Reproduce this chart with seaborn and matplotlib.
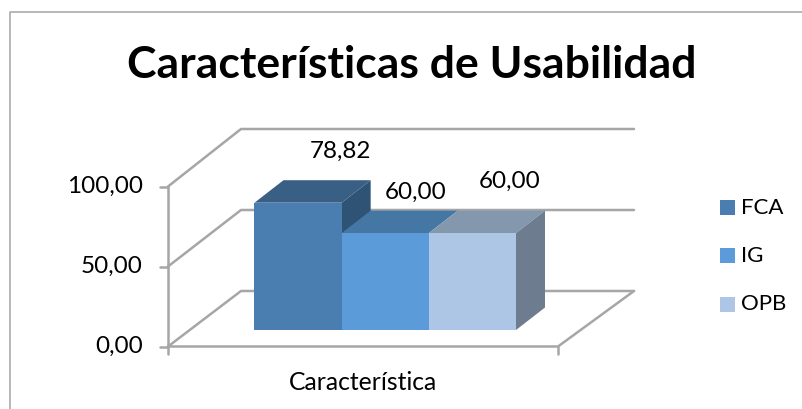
import matplotlib
matplotlib.use('Agg')
import matplotlib.pyplot as plt
from matplotlib.patches import Polygon
import seaborn as sns
import pandas as pd

series = ['FCA', 'IG', 'OPB']
values = [78.82, 60.00, 60.00]
value_labels = ['78,82', '60,00', '60,00']
category = 'Característica'
y_ticks = [0, 50, 100]
y_tick_labels = ['0,00', '50,00', '100,00']
title = 'Características de Usabilidad'

front_colors = ['#4A7EB0', '#5B9BD9', '#ADC6E5']
top_colors = ['#3A5F85', '#4577A4', '#8397AD']
side_colors = ['#2F5375', '#3F6C94', '#6D7D8F']

W, H = 803, 409
DX, DY = 29, -22.5
GRAY = '#A6A6A6'

sns.set_theme(style='white')
plt.rcParams['font.family'] = ['Lato', 'DejaVu Sans']

df = pd.DataFrame({'categoria': [category] * 3, 'serie': series, 'valor': values})

fig = plt.figure(figsize=(W / 100, H / 100), dpi=100)

# background layer in pixels, y going down
bg = fig.add_axes([0, 0, 1, 1], zorder=1)
bg.set_xlim(0, W)
bg.set_ylim(H, 0)
bg.axis('off')

# chart border, only left and top are inside the picture
bg.plot([10, 10, W], [H, 11.5, 11.5], color='#ABABAB', lw=1.2)


def front_y(v):
    return 346.5 - v * 1.6


def back_y(v):
    return 291 - v * 1.62


# walls and floor
for v in y_ticks:
    bg.plot([168, 241, 634], [front_y(v), back_y(v), back_y(v)], color=GRAY, lw=1.8)
    bg.plot([160, 168], [front_y(v), front_y(v)], color=GRAY, lw=1.8)
    bg.text(143, front_y(v) - 0.5, y_tick_labels[y_ticks.index(v)], ha='right', va='center', fontsize=17.5, color='black')
bg.plot([168, 168], [front_y(0) + 7, front_y(100)], color=GRAY, lw=1.8)
bg.plot([168, 558, 634], [front_y(0), front_y(0), back_y(0)], color=GRAY, lw=1.8)
bg.plot([558, 558], [front_y(0), front_y(0) + 7], color=GRAY, lw=1.8)

# front faces of the bars
bar_left, bar_right, bar_base = 254.5, 516, 330
scale = 1.615
ax = fig.add_axes([bar_left / W, 1 - bar_base / H, (bar_right - bar_left) / W, 100 * scale / H], zorder=2)
ax.patch.set_alpha(0)
sns.barplot(data=df, x='categoria', y='valor', hue='serie', hue_order=series, palette=front_colors,
            saturation=1, width=0.9, gap=0, dodge=True, legend=False, linewidth=0, ax=ax)
ax.set_xlim(-0.45, 0.45)
ax.set_ylim(0, 100)
ax.axis('off')

# depth faces worked out from the drawn bars
fig.canvas.draw()
bars = list(ax.patches)
for i, bar in enumerate(bars):
    x0, x1 = bar.get_x(), bar.get_x() + bar.get_width()
    (px0, py1), (px1, py0) = ax.transData.transform([(x0, bar.get_height()), (x1, 0)])
    left, right = px0, px1
    top, base = H - py1, H - py0
    bg.add_patch(Polygon([(left, top), (right, top), (right + DX, top + DY), (left + DX, top + DY)],
                         facecolor=top_colors[i], edgecolor='none', zorder=5))
    if i == 0 or i == len(bars) - 1:
        bg.add_patch(Polygon([(right, top), (right + DX, top + DY), (right + DX, base + DY), (right, base)],
                             facecolor=side_colors[i], edgecolor='none', zorder=4 + i))

# data labels
label_pos = [(341, 151.5), (416, 192), (509.5, 181)]
for (lx, ly), text in zip(label_pos, value_labels):
    bg.text(lx, ly, text, ha='center', va='center', fontsize=17.5, color='black', zorder=6)

bg.text(363, 383, category, ha='center', va='center', fontsize=17.8, color='black')
bg.text(412, 65, title, ha='center', va='center', fontsize=32, fontweight='bold', color='black')

legend_y = [207.5, 255.5, 304.5]
for c, s, ly in zip(front_colors, series, legend_y):
    bg.add_patch(plt.Rectangle((720, ly - 7.5), 15, 15, facecolor=c, edgecolor='none'))
    bg.text(741, ly, s, ha='left', va='center', fontsize=16, color='black')

fig.savefig('out.png', dpi=100)
